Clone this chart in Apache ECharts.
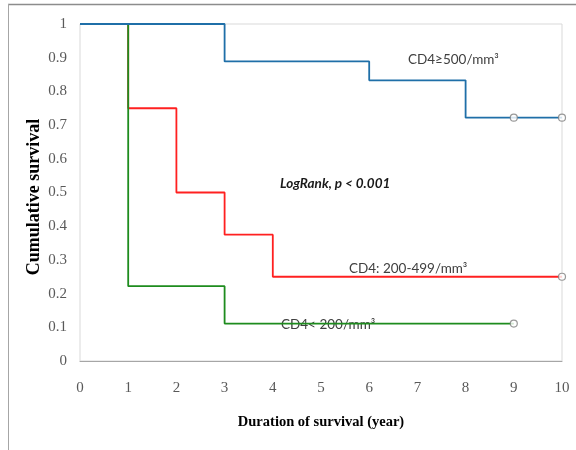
<!DOCTYPE html>
<html>
<head>
<meta charset="utf-8">
<script src="https://cdn.jsdelivr.net/npm/echarts@6/dist/echarts.min.js"></script>
<style>html,body{margin:0;padding:0;background:#fff}#c{width:576px;height:450px}</style>
</head>
<body>
<div id="c"></div>
<script>
// Kaplan-Meier step data (time in years, cumulative survival)
const xTicks = [0,1,2,3,4,5,6,7,8,9,10];
const highTimes = [0, 3, 6, 8, 10];
const highSurv  = [1, 0.889, 0.833, 0.722, 0.722];
const midTimes  = [0, 1, 2, 3, 4, 10];
const midSurv   = [1, 0.75, 0.5, 0.375, 0.25, 0.25];
const lowTimes  = [0, 1, 3, 9];
const lowSurv   = [1, 0.222, 0.111, 0.111];
// censored observations
const highCensT = [9, 10];
const highCensS = [0.722, 0.722];
const midCensT  = [10];
const midCensS  = [0.25];
const lowCensT  = [9];
const lowCensS  = [0.111];
const labels = ['CD4\u2265500/mm\u00B3', 'CD4: 200-499/mm\u00B3', 'CD4< 200/mm\u00B3', 'LogRank, p < 0.001'];
const yTitle = 'Cumulative survival';
const xTitle = 'Duration of survival (year)';

const zip = (a, b) => a.map((v, i) => [v, b[i]]);
const chart = echarts.init(document.getElementById('c'));
const serif = '"Liberation Serif", "Times New Roman", serif';
const sans = 'Lato, "Open Sans", sans-serif';
const censStyle = {color: '#ffffff', borderColor: '#808080', borderWidth: 1.2};

chart.setOption({
  animation: false,
  grid: {left: 80, right: 14, top: 24, bottom: 89, show: true, borderColor: '#D9D9D9', borderWidth: 1},
  xAxis: {
    type: 'value', min: 0, max: 10, interval: 1,
    axisLine: {show: true, lineStyle: {color: '#A6A6A6', width: 1}},
    axisTick: {show: false}, splitLine: {show: false},
    axisLabel: {color: '#595959', fontFamily: serif, fontSize: 15, margin: 20},
    name: xTitle, nameLocation: 'middle', nameGap: 54,
    nameTextStyle: {color: '#000', fontFamily: serif, fontWeight: 'bold', fontSize: 14.5}
  },
  yAxis: {
    type: 'value', min: 0, max: 1, interval: 0.1,
    axisLine: {show: false}, axisTick: {show: false}, splitLine: {show: false},
    axisLabel: {color: '#595959', fontFamily: serif, fontSize: 15, margin: 13}
  },
  series: [
    {type: 'line', step: 'end', data: zip(midTimes, midSurv), showSymbol: false,
     lineStyle: {color: '#FF2020', width: 1.8}, z: 2},
    {type: 'line', step: 'end', data: zip(lowTimes, lowSurv), showSymbol: false,
     lineStyle: {color: '#1E8C1E', width: 1.8}, z: 3},
    {type: 'line', step: 'end', data: zip(highTimes, highSurv), showSymbol: false,
     lineStyle: {color: '#1F6FA8', width: 1.8}, z: 4},
    {type: 'scatter', data: zip(highCensT, highCensS), symbol: 'circle', symbolSize: 7, itemStyle: censStyle, z: 5},
    {type: 'scatter', data: zip(midCensT, midCensS), symbol: 'circle', symbolSize: 7, itemStyle: censStyle, z: 5},
    {type: 'scatter', data: zip(lowCensT, lowCensS), symbol: 'circle', symbolSize: 7, itemStyle: censStyle, z: 5}
  ],
  graphic: [
    {type: 'line', shape: {x1: 8, y1: 4.5, x2: 576, y2: 4.5}, style: {stroke: '#8C8C8C', lineWidth: 1.5}},
    {type: 'line', shape: {x1: 8.5, y1: 4, x2: 8.5, y2: 450}, style: {stroke: '#A6A6A6', lineWidth: 1}},
    {type: 'text', x: 34, y: 197, rotation: Math.PI / 2,
     style: {text: yTitle, font: 'bold 18px ' + serif, fill: '#000', align: 'center', verticalAlign: 'middle'}},
    {type: 'text', left: 408, top: 53, style: {text: labels[0], font: '13.5px ' + sans, fill: '#404040'}},
    {type: 'text', left: 349, top: 262, style: {text: labels[1], font: '13.5px ' + sans, fill: '#404040'}},
    {type: 'text', left: 281, top: 318, style: {text: labels[2], font: '13.5px ' + sans, fill: '#404040'}},
    {type: 'text', left: 280, top: 177, style: {text: labels[3], font: 'italic bold 13.5px ' + sans, fill: '#1A1A1A'}}
  ]
});
</script>
</body>
</html>
